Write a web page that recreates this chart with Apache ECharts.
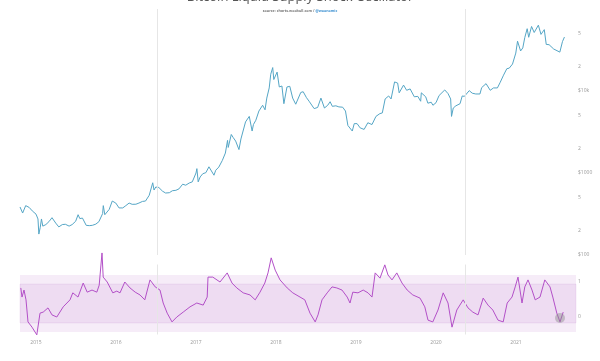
<!DOCTYPE html>
<html><head><meta charset="utf-8">
<script src="https://cdn.jsdelivr.net/npm/echarts@6/dist/echarts.min.js"></script>
<style>html,body{margin:0;padding:0;background:#fff}#c{width:600px;height:361px}</style>
</head><body><div id="c"></div>
<script>
const titleText = 'Bitcoin Liquid Supply Shock Oscillator';
const yearTicks = [2015, 2016, 2017, 2018, 2019, 2020, 2021];
const priceTickValues = [100, 200, 500, 1000, 2000, 5000, 10000, 20000, 50000];
const priceTickLabels = ['$100', '2', '5', '$1000', '2', '5', '$10k', '2', '5'];
const oscTickValues = [0, 1];
const oscTickLabels = ['0', '1'];
const halvings = [2016.52, 2020.36];
const bandOuter = [-0.43, 1.2];
const bandInner = [-0.17, 0.94];

const priceDates = [
'2014-10-20','2014-11-01','2014-11-15','2014-12-01','2014-12-15','2015-01-01','2015-01-10','2015-01-14','2015-01-20','2015-01-26',
'2015-02-01','2015-02-15','2015-03-01','2015-03-15','2015-04-01','2015-04-15','2015-05-01','2015-05-15','2015-06-01','2015-06-15',
'2015-07-01','2015-07-12','2015-07-20','2015-08-01','2015-08-18','2015-09-01','2015-09-15','2015-10-01','2015-10-15','2015-11-01',
'2015-11-04','2015-11-11','2015-11-20','2015-12-01','2015-12-15','2015-12-31','2016-01-15','2016-02-01','2016-02-15','2016-03-01',
'2016-03-15','2016-04-01','2016-04-15','2016-05-01','2016-05-15','2016-06-01','2016-06-17','2016-06-23','2016-07-01','2016-07-15',
'2016-08-01','2016-08-15','2016-09-01','2016-09-15','2016-10-01','2016-10-15','2016-11-01','2016-11-15','2016-12-01','2016-12-15',
'2017-01-01','2017-01-05','2017-01-11','2017-01-20','2017-02-01','2017-02-15','2017-03-01','2017-03-10','2017-03-24','2017-04-01',
'2017-04-15','2017-05-01','2017-05-15','2017-05-25','2017-05-28','2017-06-11','2017-06-20','2017-07-01','2017-07-16','2017-07-25',
'2017-08-01','2017-08-15','2017-09-01','2017-09-14','2017-09-20','2017-10-01','2017-10-15','2017-11-01','2017-11-12','2017-11-20',
'2017-12-01','2017-12-08','2017-12-17','2017-12-22','2017-12-31','2018-01-06','2018-01-16','2018-01-28','2018-02-06','2018-02-20',
'2018-03-05','2018-03-18','2018-04-01','2018-04-24','2018-05-05','2018-05-20','2018-06-01','2018-06-24','2018-07-10','2018-07-25',
'2018-08-10','2018-08-25','2018-09-05','2018-09-15','2018-10-01','2018-10-15','2018-11-01','2018-11-14','2018-11-25','2018-12-15',
'2018-12-24','2019-01-06','2019-01-20','2019-02-07','2019-02-24','2019-03-15','2019-04-02','2019-04-20','2019-05-01','2019-05-14',
'2019-05-30','2019-06-10','2019-06-26','2019-07-10','2019-07-17','2019-08-06','2019-08-20','2019-09-05','2019-09-24','2019-10-10',
'2019-10-23','2019-10-26','2019-11-15','2019-11-25','2019-12-10','2019-12-18','2020-01-01','2020-01-15','2020-02-10','2020-02-25',
'2020-03-08','2020-03-12','2020-03-20','2020-04-01','2020-04-20','2020-04-30','2020-05-10','2020-06-01','2020-06-15','2020-07-01',
'2020-07-20','2020-07-28','2020-08-17','2020-09-05','2020-09-20','2020-10-08','2020-10-21','2020-11-05','2020-11-20','2020-12-01',
'2020-12-16','2020-12-31','2021-01-08','2021-01-22','2021-02-01','2021-02-10','2021-02-21','2021-02-28','2021-03-13','2021-03-25',
'2021-04-13','2021-04-25','2021-05-10','2021-05-19','2021-06-01','2021-06-22','2021-07-01','2021-07-20','2021-08-01','2021-08-10'
];
const priceValues = [
385,325,400,380,345,315,275,180,215,275,
225,235,255,285,245,220,235,237,225,235,
258,310,278,282,230,228,230,238,255,320,
400,310,325,360,455,430,375,375,400,430,
415,416,430,450,455,535,760,620,675,665,
600,570,575,608,615,640,730,710,755,780,
1000,1130,780,895,980,1010,1190,1250,940,1080,
1180,1420,1750,2500,2050,2950,2700,2450,1930,2600,
2750,4200,4900,3250,3900,4400,5700,6700,5900,8200,
10900,16000,19300,13800,14000,17000,11200,11500,7000,11200,
11400,8200,6900,9600,9800,8300,7500,6100,6300,8200,
6200,6700,7400,6500,6600,6400,6350,5700,3800,3250,
4000,4000,3550,3400,4100,3900,4900,5300,5400,8000,
8700,8000,12900,12500,9500,11800,10200,10600,8500,8600,
7500,9500,8500,7100,7300,6700,7200,8800,10300,9300,
8000,4900,6200,6600,7000,8700,8600,10100,9400,9200,
9200,11000,12300,10200,10900,10900,12800,15600,18700,19000,
21300,29000,40500,30800,33500,44800,57500,45200,61200,51700,
63500,49000,56000,37000,36700,32500,33500,29800,40000,45500
];

const oscYears = [
2014.81,2014.825,2014.85,2014.875,2014.90,2014.95,2015.01,2015.05,2015.09,2015.15,
2015.20,2015.26,2015.34,2015.425,2015.46,2015.525,2015.59,2015.64,2015.70,2015.76,
2015.79,2015.825,2015.84,2015.89,2015.96,2016.01,2016.05,2016.11,2016.175,2016.24,
2016.30,2016.36,2016.425,2016.49,2016.55,2016.59,2016.64,2016.70,2016.76,2016.84,
2016.925,2017.01,2017.09,2017.14,2017.15,2017.21,2017.30,2017.39,2017.45,2017.51,
2017.59,2017.675,2017.74,2017.80,2017.86,2017.90,2017.94,2017.99,2018.05,2018.14,
2018.21,2018.30,2018.36,2018.425,2018.49,2018.525,2018.575,2018.64,2018.70,2018.76,
2018.825,2018.89,2018.925,2018.96,2019.025,2019.09,2019.15,2019.20,2019.24,2019.30,
2019.36,2019.40,2019.45,2019.51,2019.575,2019.64,2019.71,2019.80,2019.86,2019.90,
2019.96,2020.025,2020.09,2020.15,2020.20,2020.26,2020.34,2020.40,2020.46,2020.525,
2020.59,2020.65,2020.71,2020.775,2020.84,2020.89,2020.95,2020.99,2021.025,2021.075,
2021.11,2021.15,2021.20,2021.24,2021.30,2021.36,2021.425,2021.46,2021.51,2021.55,
2021.59
];
const oscValues = [
0.83,0.57,0.77,0.49,-0.14,-0.29,-0.51,0.11,0.14,0.26,
0.06,0.0,0.29,0.49,0.69,0.57,0.97,0.71,0.77,0.71,
0.91,1.83,1.14,1.0,0.69,0.74,0.69,1.0,0.83,0.71,
0.63,0.49,1.06,0.86,0.77,0.4,0.11,-0.14,0.0,0.14,
0.29,0.4,0.34,0.57,1.14,1.14,1.0,1.26,0.97,0.83,
0.69,0.63,0.49,0.71,0.97,1.26,1.69,1.34,1.06,0.83,
0.69,0.57,0.49,0.11,-0.14,0.06,0.49,0.69,0.86,0.83,
0.77,0.57,0.4,0.71,0.69,0.77,0.69,0.57,1.26,1.11,
1.49,1.2,1.06,1.26,0.97,0.77,0.63,0.54,0.29,-0.09,
-0.14,0.2,0.69,0.4,-0.29,0.2,0.49,0.26,0.14,0.06,
0.54,0.34,0.2,-0.09,-0.14,0.4,0.57,0.86,1.14,0.4,
0.86,1.06,0.77,0.49,0.57,1.06,0.86,0.57,0.11,-0.14,
0.14
];
const lastPointYear = 2021.55;
const lastPointValue = -0.03;

function toYear(s) {
  const d = Date.parse(s + 'T00:00:00Z');
  const y = Number(s.slice(0, 4));
  const a = Date.UTC(y, 0, 1), b = Date.UTC(y + 1, 0, 1);
  return y + (d - a) / (b - a);
}
const priceData = priceDates.map((d, i) => [toYear(d), priceValues[i]]);
const oscData = oscYears.map((y, i) => [y, oscValues[i]]);

const font = 'Open Sans';
const chart = echarts.init(document.getElementById('c'), null, {renderer: 'canvas'});
const halvingLines = {
  silent: true, symbol: ['none', 'none'], label: {show: false},
  lineStyle: {color: '#e6e6e6', width: 1, type: 'solid'},
  data: halvings.map(h => ({xAxis: h}))
};
chart.setOption({
  animation: false,
  backgroundColor: '#fff',
  textStyle: {fontFamily: font},
  title: [
    {text: titleText, left: 'center', top: -9, padding: 0,
     textStyle: {fontSize: 13, fontWeight: 'normal', color: '#555', fontFamily: font}},
    {text: '{a|source: charts.woobull.com / }{b|@woonomic}', left: 'center', top: 9, padding: 0,
     textStyle: {rich: {a: {fontSize: 3.6, color: '#777', fontFamily: font}, b: {fontSize: 3.6, color: '#3a8fd0', fontFamily: font}}}}
  ],
  grid: [
    {left: 20, right: 24, top: 9, height: 246},
    {left: 20, right: 24, top: 264.5, height: 70}
  ],
  xAxis: [
    {type: 'value', gridIndex: 0, min: 2014.8, max: 2021.75,
     axisLine: {show: false}, axisTick: {show: false}, axisLabel: {show: false}, splitLine: {show: false}},
    {type: 'value', gridIndex: 1, min: 2014.8, max: 2021.75,
     axisLine: {show: false}, axisTick: {show: false}, splitLine: {show: false},
     axisLabel: {customValues: yearTicks, formatter: v => String(Math.round(v)), fontSize: 5, color: '#999', margin: 6, fontFamily: font}}
  ],
  yAxis: [
    {type: 'log', logBase: 10, gridIndex: 0, min: 100, max: 100000, position: 'right',
     axisLine: {show: false}, axisTick: {show: false}, splitLine: {show: false},
     axisLabel: {customValues: priceTickValues,
       formatter: v => { const i = priceTickValues.findIndex(t => Math.abs(t - v) / t < 1e-6); return i >= 0 ? priceTickLabels[i] : ''; },
       fontSize: 5, color: '#999', margin: 2, fontFamily: font}},
    {type: 'value', gridIndex: 1, min: -0.5, max: 1.5, interval: 0.5, position: 'right',
     axisLine: {show: false}, axisTick: {show: false}, splitLine: {show: false},
     axisLabel: {customValues: oscTickValues,
       formatter: v => { const i = oscTickValues.findIndex(t => Math.abs(t - v) < 1e-6); return i >= 0 ? oscTickLabels[i] : ''; },
       fontSize: 5, color: '#999', margin: 2, fontFamily: font}}
  ],
  series: [
    {name: 'Price', type: 'line', xAxisIndex: 0, yAxisIndex: 0, data: priceData,
     showSymbol: false, symbol: 'none', lineStyle: {color: '#55a6c6', width: 1}, itemStyle: {color: '#55a6c6'},
     markLine: halvingLines},
    {name: 'Liquid Supply Shock Oscillator', type: 'line', xAxisIndex: 1, yAxisIndex: 1, data: oscData,
     clip: false, showSymbol: false, symbol: 'none', lineStyle: {color: '#b350c8', width: 1}, itemStyle: {color: '#b350c8'},
     markLine: halvingLines,
     markArea: {silent: true, data: [
       [{yAxis: bandOuter[1], itemStyle: {color: 'rgba(214,170,222,0.22)'}}, {yAxis: bandOuter[0]}],
       [{yAxis: bandInner[1], itemStyle: {color: 'rgba(205,150,215,0.18)', borderColor: 'rgba(190,130,200,0.3)', borderWidth: 0.5}}, {yAxis: bandInner[0]}]
     ]},
     markPoint: {silent: true, symbol: 'circle', symbolSize: 10, label: {show: false},
       itemStyle: {color: 'rgba(140,140,140,0.45)'},
       data: [{coord: [lastPointYear, lastPointValue]}]}
    }
  ]
});
</script></body></html>
